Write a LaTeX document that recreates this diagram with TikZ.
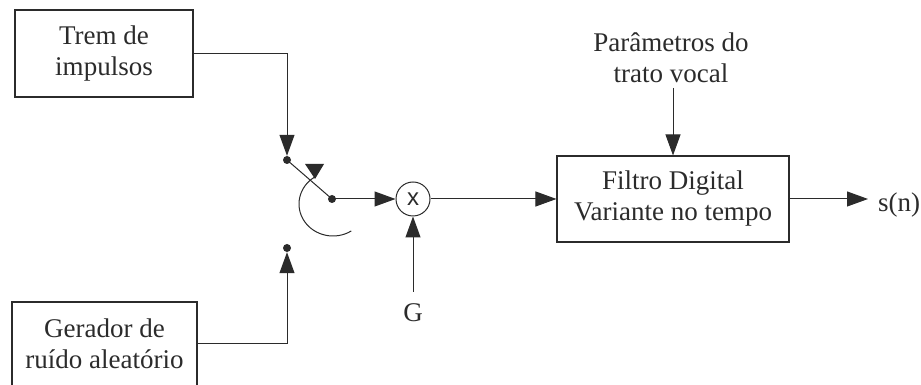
\documentclass[tikz,border=0pt]{standalone}
\usepackage{fontspec}
\setmainfont{Liberation Serif}
\newfontfamily\mixfont{Liberation Sans}
\usetikzlibrary{arrows.meta}
\definecolor{ink}{HTML}{2B2B2B}
\begin{document}
\begin{tikzpicture}[x=1pt,y=1pt,
  every node/.style={font=\fontsize{27}{31}\selectfont, text=ink},
  block/.style={draw=ink, line width=1.1pt, align=center, inner sep=0pt},
  wire/.style={draw=ink, line width=1pt},
  feed/.style={wire, -{Triangle[length=21pt,width=15pt]}},
  contact/.style={circle, fill=ink, inner sep=0pt, minimum size=8pt},
  mixer/.style={circle, draw=ink, line width=1pt, minimum size=34pt, inner sep=0pt,
    font=\mixfont\fontsize{24}{24}\selectfont}
]
\clip (0,0) rectangle (921,385);

% sources
\node[block, minimum width=178pt, minimum height=87pt] (trem) at (104,331.5) {Trem de\\impulsos};
\node[block, minimum width=185pt, minimum height=84pt] (ruido) at (104.5,41) {Gerador de\\ruído aleatório};

% switch contacts and pivot
\node[contact] (c1) at (287,225) {};
\node[contact] (c2) at (287,137) {};
\node[contact] (pv) at (332,186) {};

% multiplier, gain and filter
\node[mixer] (mx) at (413,186) {x};
\node[inner sep=0pt, anchor=north] (g) at (413,82) {G};
\node[block, minimum width=232pt, minimum height=86pt] (filt) at (673,186) {Filtro Digital\\Variante no tempo};
\node[align=center, inner sep=0pt, anchor=south] (par) at (671,302) {Parâmetros do\\trato vocal};
\node[anchor=west, inner sep=0pt] (sn) at (878,180) {s(n)};

% switch arm and its rotation mark
\draw[wire] (c1.center) -- (pv.center);
\draw[wire] (333,181) ++(123:34 and 32) arc[start angle=123, end angle=302.6, x radius=34, y radius=32];
\fill[ink] (305,221) -- (324,221) -- (315,206) -- cycle;

% connectors
\draw[feed] (trem.east) -| (c1.north);
\draw[feed] (ruido.east) -| (c2.south);
\draw[feed] (pv.center) -- (mx.west);
\draw[feed] ([yshift=11pt]g.north) -- (mx.south);
\draw[feed] (mx.east) -- (filt.west);
\draw[feed] ([yshift=-5pt]par.south -| filt.north) -- (filt.north);
\draw[feed, shorten >=10pt] (filt.east) -- (filt.east -| sn.west);
\end{tikzpicture}
\end{document}
